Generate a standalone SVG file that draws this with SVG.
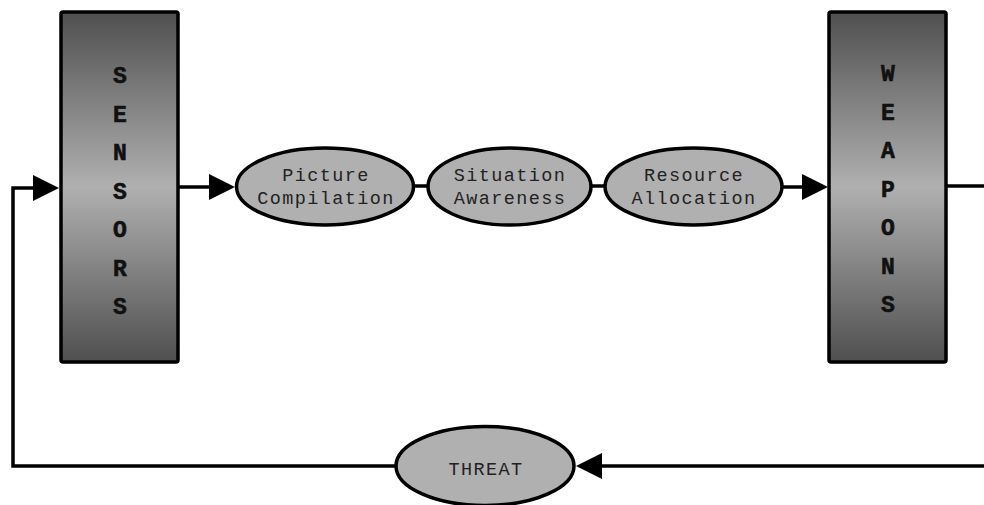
<svg xmlns="http://www.w3.org/2000/svg" width="984" height="505" viewBox="0 0 984 505">
<defs>
<linearGradient id="g" x1="0" y1="0" x2="0" y2="1">
<stop offset="0" stop-color="#4f4f4f"/>
<stop offset="0.5" stop-color="#b0b0b0"/>
<stop offset="1" stop-color="#4f4f4f"/>
</linearGradient>
<style>
.box{fill:url(#g);stroke:#000;stroke-width:3.5}
.ell{fill:#b0b0b0;stroke:#000;stroke-width:3.5}
.big{font-family:"Liberation Mono","Courier New",monospace;font-weight:bold;font-size:23px;fill:#111;stroke:#111;stroke-width:0.6;text-anchor:middle}
.lbl{font-family:"Liberation Mono","Courier New",monospace;font-size:18.5px;letter-spacing:1.4px;fill:#222;text-anchor:middle}
.ln{fill:none;stroke:#000;stroke-width:3.5}
.ah{fill:#000}
</style>
</defs>
<rect width="984" height="505" fill="#fff"/>
<g id="connectors">
<path class="ln" d="M396 466 H13 V188 H36"/>
<polygon class="ah" points="59,188 33,175 33,201"/>
<path class="ln" d="M179 187 H212"/>
<polygon class="ah" points="235,187 209,174 209,200"/>
<path class="ln" d="M413 186 H428"/>
<path class="ln" d="M591 186 H605"/>
<path class="ln" d="M782 187 H804"/>
<polygon class="ah" points="828,187 802,174 802,200"/>
<path class="ln" d="M946 186 H984"/>
<path class="ln" d="M984 466 H598"/>
<polygon class="ah" points="576,466 602,453 602,479"/>
</g>
<g id="sensors">
<rect class="box" x="61" y="12" width="117" height="350" rx="2"/>
<text class="big" x="120" y="83">S</text>
<text class="big" x="120" y="121.5">E</text>
<text class="big" x="120" y="160">N</text>
<text class="big" x="120" y="198.5">S</text>
<text class="big" x="120" y="237">O</text>
<text class="big" x="120" y="275.5">R</text>
<text class="big" x="120" y="314">S</text>
</g>
<g id="weapons">
<rect class="box" x="829" y="12" width="117" height="350" rx="2"/>
<text class="big" x="888" y="81">W</text>
<text class="big" x="888" y="119.5">E</text>
<text class="big" x="888" y="158">A</text>
<text class="big" x="888" y="196.5">P</text>
<text class="big" x="888" y="235">O</text>
<text class="big" x="888" y="273.5">N</text>
<text class="big" x="888" y="312">S</text>
</g>
<g id="picture">
<ellipse class="ell" cx="325" cy="186.5" rx="88.5" ry="38.5"/>
<text class="lbl" x="326" y="181">Picture</text>
<text class="lbl" x="326" y="204">Compilation</text>
</g>
<g id="situation">
<ellipse class="ell" cx="509.5" cy="186.5" rx="81.5" ry="38.5"/>
<text class="lbl" x="510" y="181">Situation</text>
<text class="lbl" x="510" y="204">Awareness</text>
</g>
<g id="resource">
<ellipse class="ell" cx="693.5" cy="186.5" rx="88.5" ry="38.5"/>
<text class="lbl" x="694" y="181">Resource</text>
<text class="lbl" x="694" y="204">Allocation</text>
</g>
<g id="threat">
<ellipse class="ell" cx="485" cy="466" rx="89" ry="39.5"/>
<text class="lbl" x="486" y="475">THREAT</text>
</g>
</svg>
